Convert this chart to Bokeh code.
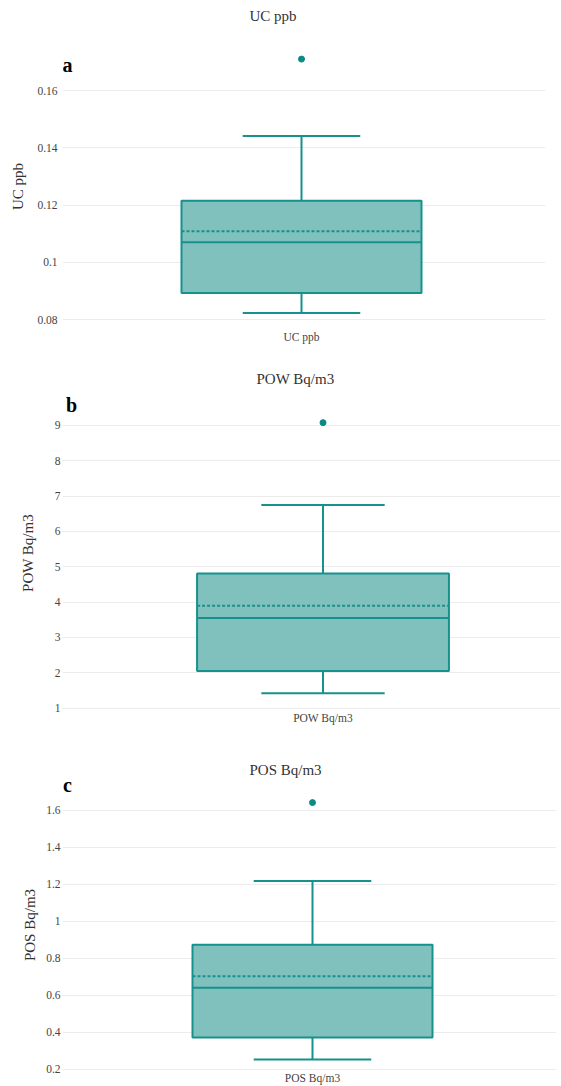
from bokeh.plotting import figure
from bokeh.layouts import column
from bokeh.models import (Range1d, FixedTicker, CustomJSTickFormatter, Label,
                          ColumnDataSource, Title)
from bokeh.transform import dodge
from bokeh.embed import file_html
from bokeh.resources import INLINE

# ---------------- data ----------------
categories = ["UC ppb", "POW Bq/m3", "POS Bq/m3"]
panel_letters = ["a", "b", "c"]
lower_whisker = [0.0823, 1.42, 0.251]
q1 = [0.0893, 2.05, 0.371]
median = [0.107, 3.55, 0.640]
mean = [0.1109, 3.90, 0.702]
q3 = [0.1215, 4.81, 0.872]
upper_whisker = [0.1441, 6.75, 1.218]
outliers = [[0.171], [9.08], [1.642]]
y_ticks = [[0.08, 0.1, 0.12, 0.14, 0.16],
           [1, 2, 3, 4, 5, 6, 7, 8, 9],
           [0.2, 0.4, 0.6, 0.8, 1, 1.2, 1.4, 1.6]]

# ---------------- layout / style ----------------
LINE = "#17918c"
FILL = "#80c1be"
DOT = "#0b8a85"
FONT = "Liberation Serif"
BOX_W = 0.49
CAP_W = 0.24
FRAME_LEFT = 62

layouts = [
    dict(top=0, mbt=46, fh=280, mbb=24, fw=483, mbr=15,
         xr=((62 - 301) / 489.8, (545 - 301) / 489.8), yr=(0.0776, 0.1754),
         title_off=187, title_so=0, spacer=20,
         letter=(67, 64), ystand=8, ylstand=5, xstand=4),
    dict(top=350, mbt=46, fh=313, mbb=26, fw=498, mbr=0,
         xr=((62 - 322.5) / 514, (560 - 322.5) / 514), yr=(0.96, 9.82),
         title_off=194, title_so=20, spacer=None,
         letter=(71, 404), ystand=16, ylstand=2, xstand=2),
    dict(top=735, mbt=44, fh=291, mbb=15, fw=494, mbr=4,
         xr=((62 - 312) / 489.8, (556 - 312) / 489.8), yr=(0.192, 1.767),
         title_off=187, title_so=4, spacer=None,
         letter=(67, 784), ystand=5, ylstand=2, xstand=1),
]


def make_panel(i, L):
    p = figure(frame_width=L["fw"], frame_height=L["fh"],
               min_border_left=FRAME_LEFT, min_border_right=L["mbr"],
               min_border_top=L["mbt"], min_border_bottom=L["mbb"],
               x_range=Range1d(*L["xr"]), y_range=Range1d(*L["yr"]),
               output_backend="svg", toolbar_location=None, tools="")
    p.outline_line_color = None
    p.background_fill_color = "white"
    p.border_fill_color = "white"
    p.xgrid.visible = False
    p.ygrid.grid_line_color = "#ececec"
    p.ygrid.grid_line_width = 1

    # title
    p.title.text = categories[i]
    p.title.align = "left"
    p.title.offset = L["title_off"]
    p.title.vertical_align = "bottom"
    p.title.standoff = L["title_so"]
    p.title.text_font = FONT
    p.title.text_font_size = "15px"
    p.title.text_font_style = "normal"
    p.title.text_color = "#333333"
    if L["spacer"] is not None:
        spacer = Title(text=" ", text_font_size="1px", standoff=L["spacer"])
        p.above = [spacer] + list(p.above)

    src = ColumnDataSource(dict(x=[0], lo=[lower_whisker[i]], q1=[q1[i]],
                                med=[median[i]], mean=[mean[i]], q3=[q3[i]],
                                hi=[upper_whisker[i]]))
    # whiskers
    p.segment(x0="x", y0="q3", x1="x", y1="hi", source=src, line_color=LINE, line_width=2)
    p.segment(x0="x", y0="lo", x1="x", y1="q1", source=src, line_color=LINE, line_width=2)
    p.segment(x0=dodge("x", -CAP_W / 2), y0="hi", x1=dodge("x", CAP_W / 2), y1="hi",
              source=src, line_color=LINE, line_width=2)
    p.segment(x0=dodge("x", -CAP_W / 2), y0="lo", x1=dodge("x", CAP_W / 2), y1="lo",
              source=src, line_color=LINE, line_width=2)
    # box
    p.vbar(x="x", width=BOX_W, bottom="q1", top="q3", source=src,
           fill_color=FILL, line_color=LINE, line_width=2)
    # median and mean
    p.segment(x0=dodge("x", -BOX_W / 2), y0="med", x1=dodge("x", BOX_W / 2), y1="med",
              source=src, line_color=LINE, line_width=2)
    p.segment(x0=dodge("x", -BOX_W / 2), y0="mean", x1=dodge("x", BOX_W / 2), y1="mean",
              source=src, line_color=LINE, line_width=2, line_dash="3 2")
    # outliers
    p.scatter(x=[0] * len(outliers[i]), y=outliers[i], size=6,
              fill_color=DOT, line_color=DOT)

    # axes
    for ax in (p.xaxis[0], p.yaxis[0]):
        ax.axis_line_color = None
        ax.major_tick_line_color = None
        ax.minor_tick_line_color = None
        ax.major_tick_out = 0
        ax.major_tick_in = 0
        ax.minor_tick_out = 0
        ax.minor_tick_in = 0
        ax.major_label_text_font = FONT
        ax.major_label_text_font_size = "11.5px"
        ax.major_label_text_color = "#444444"
    p.yaxis.ticker = FixedTicker(ticks=y_ticks[i])
    p.yaxis.formatter = CustomJSTickFormatter(code="return tick.toString();")
    p.yaxis.major_label_standoff = L["ylstand"]
    p.yaxis.axis_label = categories[i]
    p.yaxis.axis_label_text_font = FONT
    p.yaxis.axis_label_text_font_style = "normal"
    p.yaxis.axis_label_text_font_size = "15px"
    p.yaxis.axis_label_text_color = "#333333"
    p.yaxis.axis_label_standoff = L["ystand"]

    p.xaxis.ticker = FixedTicker(ticks=[0])
    p.xaxis.major_label_overrides = {0: categories[i]}
    p.xaxis.major_label_standoff = L["xstand"]

    # page pixel -> data helpers for the panel letter
    fl = FRAME_LEFT
    ft = L["top"] + L["mbt"]
    x0, x1 = L["xr"]
    y0, y1 = L["yr"]

    def dx(px):
        return x0 + (px - fl) / L["fw"] * (x1 - x0)

    def dy(py):
        return y1 - (py - ft) / L["fh"] * (y1 - y0)

    lx, ly = L["letter"]
    p.add_layout(Label(x=dx(lx), y=dy(ly), text=panel_letters[i], text_font=FONT,
                       text_font_size="20px", text_font_style="bold", text_color="#000000",
                       text_align="center", text_baseline="middle"))
    return p


panels = [make_panel(i, L) for i, L in enumerate(layouts)]
layout = column(*panels, spacing=0)

open("out.html", "w").write(file_html(layout, INLINE, title="Box plots"))
